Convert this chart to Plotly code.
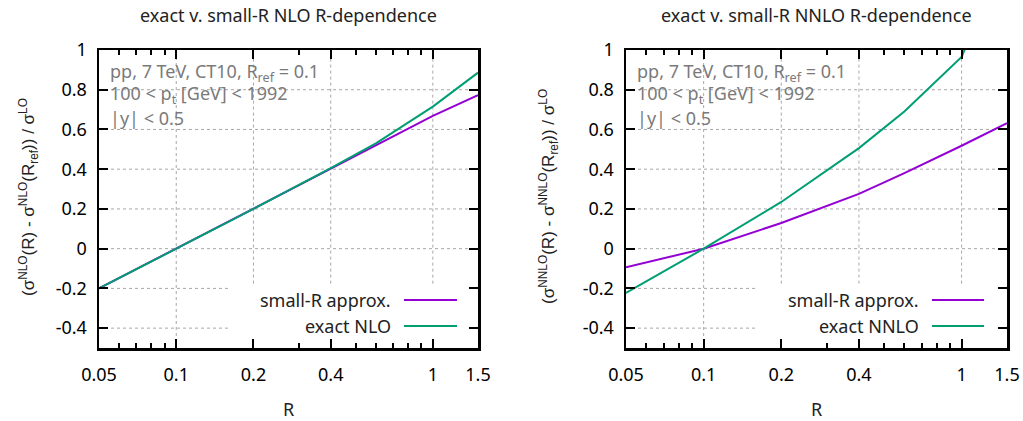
import math
import plotly.graph_objects as go

# ---------------- data ----------------
R = [0.05, 0.1, 0.2, 0.4, 0.6, 1.0, 1.5]
nlo_smallR = [-0.2, 0.0, 0.2, 0.4, 0.517, 0.668, 0.773]
nlo_exact = [-0.2, 0.0, 0.2, 0.405, 0.53, 0.715, 0.886]
nnlo_smallR = [-0.094, 0.0, 0.129, 0.276, 0.380, 0.518, 0.632]
nnlo_exact = [-0.223, 0.0, 0.235, 0.506, 0.690, 0.965, 1.5]

x_major = [0.05, 0.1, 0.2, 0.4, 1, 1.5]
x_major_text = ["0.05", "0.1", "0.2", "0.4", "1", "1.5"]
x_minor = [0.06, 0.07, 0.08, 0.09, 0.3, 0.5, 0.6, 0.7, 0.8, 0.9]
y_major = [-0.4, -0.2, 0, 0.2, 0.4, 0.6, 0.8, 1]
y_major_text = ["-0.4", "-0.2", "0", "0.2", "0.4", "0.6", "0.8", "1"]

titles = ["exact v. small-R NLO R-dependence", "exact v. small-R NNLO R-dependence"]
ytitles = ["(σ<sup>NLO</sup>(R) - σ<sup>NLO</sup>(R<sub>ref</sub>)) / σ<sup>LO</sup>",
           "(σ<sup>NNLO</sup>(R) - σ<sup>NNLO</sup>(R<sub>ref</sub>)) / σ<sup>LO</sup>"]
info_lines = ["pp, 7 TeV, CT10, R<sub>ref</sub> = 0.1",
              "100 < p<sub>t</sub> [GeV] < 1992",
              "|y| < 0.5"]
legend_names = [["small-R approx.", "exact NLO"], ["small-R approx.", "exact NNLO"]]

PURPLE = "#9400D3"
GREEN = "#009E73"
FONT = "Noto Sans"
FS = 18
XMIN, XMAX = 0.05, 1.5
YMIN, YMAX = -0.5, 1.0

W, H = 1023, 421


def px(x):
    return x / W


def py(y):
    return (H - y) / H


plots = [dict(x0=99, x1=478), dict(x0=626, x1=1007)]
ytop, ybot = 50, 348


def xfrac(r):
    return (math.log10(r) - math.log10(XMIN)) / (math.log10(XMAX) - math.log10(XMIN))


def yfrac(v):
    return (v - YMIN) / (YMAX - YMIN)


fig = go.Figure()

series = [(nlo_smallR, nlo_exact), (nnlo_smallR, nnlo_exact)]
for i, (s, e) in enumerate(series):
    xa = "x" if i == 0 else "x2"
    ya = "y" if i == 0 else "y2"
    fig.add_trace(go.Scatter(x=R, y=s, mode="lines", line=dict(color=PURPLE, width=2),
                             name=legend_names[i][0], xaxis=xa, yaxis=ya, showlegend=False,
                             hoverinfo="skip"))
    fig.add_trace(go.Scatter(x=R, y=e, mode="lines", line=dict(color=GREEN, width=2),
                             name=legend_names[i][1], xaxis=xa, yaxis=ya, showlegend=False,
                             hoverinfo="skip"))

ydom = [py(ybot), py(ytop)]
axis_common = dict(showline=True, linecolor="black", linewidth=2.5, mirror="allticks",
                   ticks="inside", tickcolor="black", tickwidth=2, ticklen=9,
                   showgrid=False, zeroline=False, automargin=False,
                   tickfont=dict(family=FONT, size=FS, color="black"))

for i, p in enumerate(plots):
    xd = [px(p["x0"]), px(p["x1"])]
    xkey = "xaxis" if i == 0 else "xaxis2"
    ykey = "yaxis" if i == 0 else "yaxis2"
    fig.update_layout(**{
        xkey: dict(axis_common, type="log", domain=xd,
                   range=[math.log10(XMIN), math.log10(XMAX)],
                   tickmode="array", tickvals=x_major, ticktext=x_major_text,
                   anchor="y" if i == 0 else "y2", ticklabelstandoff=9,
                   minor=dict(tickmode="array", tickvals=x_minor, ticks="inside",
                              ticklen=5, tickwidth=2, tickcolor="black", showgrid=False)),
        ykey: dict(axis_common, domain=ydom, range=[YMIN, YMAX],
                   tickmode="array", tickvals=y_major, ticktext=y_major_text,
                   anchor="x" if i == 0 else "x2", ticklabelstandoff=6),
    })

GRID = dict(color="#a8a8a8", width=1, dash="dot")
key_top_val = -0.176
key_left_R = 0.161

shapes = []
annotations = []
for i, p in enumerate(plots):
    xr = "x domain" if i == 0 else "x2 domain"
    yr = "y domain" if i == 0 else "y2 domain"
    pw = p["x1"] - p["x0"]
    ph = ybot - ytop
    # grid (interrupted by the opaque key box)
    for v in y_major[:-1]:
        xend = xfrac(key_left_R) if v < key_top_val else 1
        shapes.append(dict(type="line", xref=xr, yref=yr, x0=0, x1=xend,
                           y0=yfrac(v), y1=yfrac(v), line=GRID, layer="below"))
    for r in x_major[1:-1]:
        ystart = 0 if r < key_left_R else yfrac(key_top_val)
        shapes.append(dict(type="line", xref=xr, yref=yr, x0=xfrac(r), x1=xfrac(r),
                           y0=ystart, y1=1, line=GRID, layer="below"))
    # key samples
    lx0 = (404 if i == 0 else 932) - p["x0"]
    lx1 = (457 if i == 0 else 984) - p["x0"]
    textx = (393 if i == 0 else 921) - p["x0"]
    for j, (col, yy) in enumerate([(PURPLE, 300), (GREEN, 326)]):
        shapes.append(dict(type="line", xref=xr, yref=yr, x0=lx0 / pw, x1=lx1 / pw,
                           y0=(ybot - yy) / ph, y1=(ybot - yy) / ph,
                           line=dict(color=col, width=2), layer="above"))
        annotations.append(dict(xref=xr, yref=yr, x=textx / pw, y=(ybot - yy) / ph,
                                text=legend_names[i][j], showarrow=False,
                                xanchor="right", yanchor="middle",
                                font=dict(family=FONT, size=FS, color="#222")))
    # info text
    for k, yy in enumerate([72, 95, 118]):
        annotations.append(dict(xref="paper", yref="paper", x=px(p["x0"] + 9),
                                y=py(yy), text=info_lines[k], showarrow=False,
                                xanchor="left", yanchor="middle",
                                font=dict(family=FONT, size=FS, color="#7a7a7a")))
    cx = (p["x0"] + p["x1"]) / 2
    annotations.append(dict(xref="paper", yref="paper", x=px(cx), y=py(15),
                            text=titles[i], showarrow=False, xanchor="center",
                            yanchor="middle", font=dict(family=FONT, size=FS, color="#222")))
    annotations.append(dict(xref="paper", yref="paper", x=px(cx), y=py(409),
                            text="R", showarrow=False, xanchor="center",
                            yanchor="middle", font=dict(family=FONT, size=FS, color="#222")))
    annotations.append(dict(xref="paper", yref="paper", x=px(28 if i == 0 else 548),
                            y=py(197), text=ytitles[i], showarrow=False,
                            textangle=-90, xanchor="center", yanchor="middle",
                            font=dict(family="Liberation Sans", size=17, color="#222")))

fig.update_layout(width=W, height=H, margin=dict(l=0, r=0, t=0, b=0, autoexpand=False),
                  paper_bgcolor="white", plot_bgcolor="white", hovermode=False,
                  shapes=shapes, annotations=annotations, showlegend=False)

fig.write_html("out.html", config={"displayModeBar": False, "staticPlot": True},
               post_script="document.body.style.margin='0px';"
                           "document.body.style.overflow='hidden';")
